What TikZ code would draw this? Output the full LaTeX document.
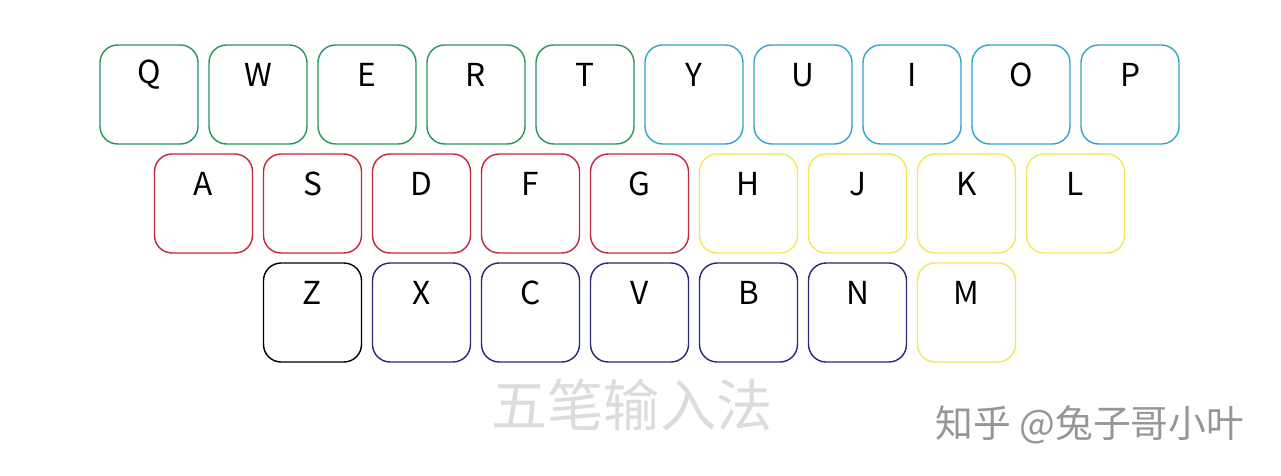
\documentclass[tikz,border=0pt]{standalone}
\usepackage{fontspec}
\setsansfont{Noto Sans}
\newfontfamily\cjk{Noto Sans CJK SC}
\begin{document}
\begin{tikzpicture}[x=0.02cm,y=-0.02cm]
\definecolor{kgreen}{RGB}{40,150,90}
\definecolor{kcyan}{RGB}{50,165,200}
\definecolor{kred}{RGB}{195,40,60}
\definecolor{kyellow}{RGB}{245,230,90}
\definecolor{knavy}{RGB}{40,40,120}
\definecolor{ktitle}{RGB}{220,220,220}
\definecolor{kmark}{RGB}{150,150,150}
\tikzset{
  keybox/.style={draw=#1, line width=0.8pt, rounded corners=10pt, minimum width=1.96cm, minimum height=1.98cm, inner sep=0pt, fill=white},
  keylabel/.style={font=\cjk\fontsize{18}{18}\selectfont, text=black, inner sep=0pt}
}
\useasboundingbox (0,0) rectangle (1281,476);
\fill[white] (0,0) rectangle (1281,476);
% row 1
\foreach \l/\c [count=\i from 0] in {Q/kgreen,W/kgreen,E/kgreen,R/kgreen,T/kgreen,Y/kcyan,U/kcyan,I/kcyan,O/kcyan,P/kcyan}{
  \node[keybox=\c] (k\l) at ({149+109*\i},94.5) {};
  \node[keylabel] (t\l) at ({149+109*\i},75) {\l};
}
% row 2
\foreach \l/\c [count=\i from 0] in {A/kred,S/kred,D/kred,F/kred,G/kred,H/kyellow,J/kyellow,K/kyellow,L/kyellow}{
  \node[keybox=\c] (k\l) at ({203.5+109*\i},203.5) {};
  \node[keylabel] (t\l) at ({203.5+109*\i},184) {\l};
}
% row 3
\foreach \l/\c [count=\i from 0] in {Z/black,X/knavy,C/knavy,V/knavy,B/knavy,N/knavy,M/kyellow}{
  \node[keybox=\c] (k\l) at ({312.5+109*\i},312.5) {};
  \node[keylabel] (t\l) at ({312.5+109*\i},293) {\l};
}
\node[font=\cjk\fontsize{32}{32}\selectfont, text=ktitle, inner sep=0pt] (title) at (632,405) {五笔输入法};
\node[font=\cjk\fontsize{21.5}{21.5}\selectfont, text=white, inner sep=0pt] (markshadow) at (1091.5,427) {知乎 @兔子哥小叶};
\node[font=\cjk\fontsize{21.5}{21.5}\selectfont, text=kmark, inner sep=0pt] (mark) at (1090,425) {知乎 @兔子哥小叶};
\end{tikzpicture}
\end{document}
